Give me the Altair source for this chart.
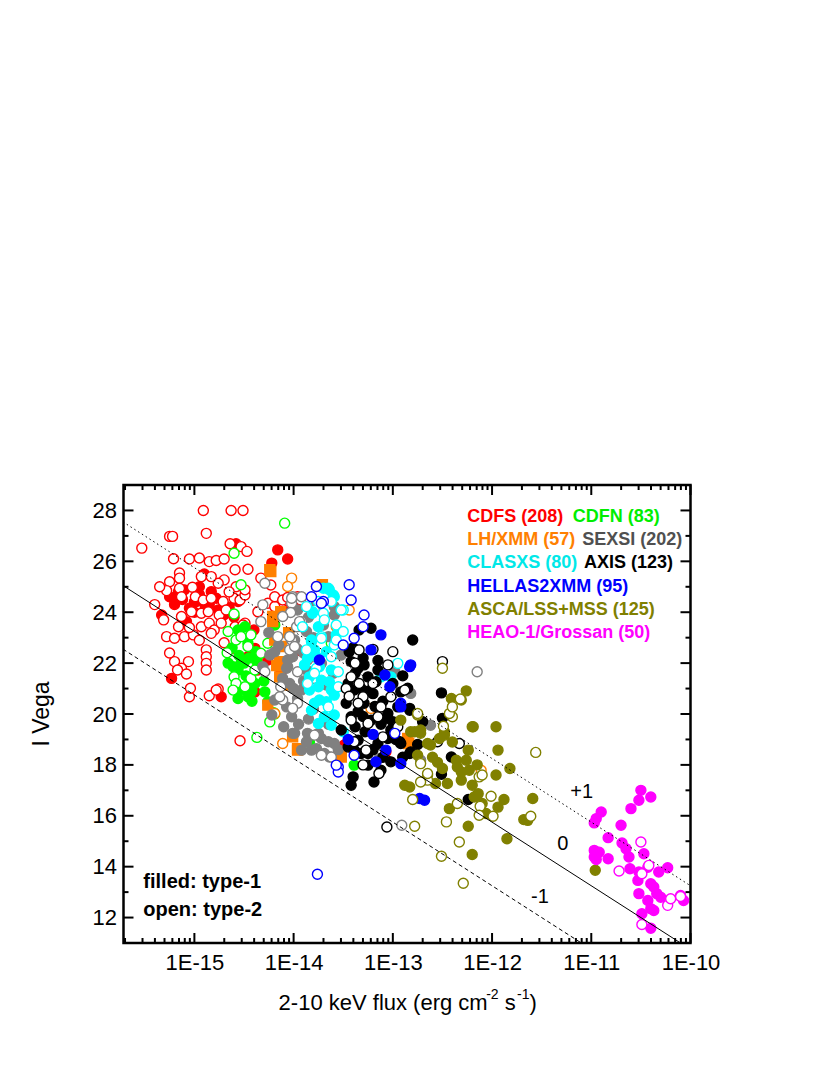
import altair as alt
import pandas as pd

FONT = "Liberation Sans"

# ---------------- data: (log10 flux, I Vega mag) ----------------
CDFS_FILLED = [(-15.33, 23.89), (-15.23, 21.4), (-14.16, 26.45), (-14.06, 26.09), (-14.22, 25.93), (-14.58, 26.69),
               (-15.25, 24.61), (-15.10, 24.88), (-15.16, 24.81), (-14.83, 24.81), (-14.78, 24.55), (-14.98, 24.42),
               (-15.05, 24.16), (-15.08, 23.63), (-14.89, 24.22), (-14.76, 24.09), (-14.73, 20.68), (-14.39, 20.87),
               (-14.56, 24.42), (-14.06, 24.09), (-14.39, 22.58), (-14.46, 22.25), (-14.26, 22.12), (-14.36, 21.73),
               (-14.13, 21.6), (-13.96, 24.42), (-13.92, 23.43), (-15.20, 24.3), (-15.12, 24.5), (-14.95, 24.7),
               (-14.90, 25.5), (-15.0, 24.0), (-14.7, 23.9), (-13.07, 18.51), (-13.49, 18.78), (-13.95, 22.5),
               (-15.18, 24.6), (-15.0, 24.4), (-14.85, 24.3), (-14.65, 24.2), (-14.95, 25.0), (-14.6, 23.8),
               (-14.4, 23.3)]
CDFS_OPEN = [(-15.53, 26.52), (-14.91, 28.0), (-14.63, 28.0), (-14.51, 28.0), (-15.25, 26.98), (-15.22, 26.98),
             (-14.88, 27.1), (-15.21, 26.1), (-15.05, 26.09), (-14.95, 26.13), (-14.85, 25.99), (-14.78, 26.03),
             (-14.70, 26.09), (-14.64, 26.69), (-14.53, 26.58), (-14.47, 26.39), (-14.59, 25.67), (-14.46, 25.69),
             (-14.70, 25.27), (-14.76, 25.14), (-15.15, 25.54), (-15.15, 25.34), (-15.25, 25.2), (-15.28, 24.85),
             (-15.15, 24.94), (-15.02, 24.98), (-14.93, 25.4), (-14.83, 25.4), (-15.13, 24.61), (-14.99, 24.61),
             (-14.91, 24.48), (-14.83, 24.55), (-14.71, 24.42), (-14.60, 24.55), (-14.54, 24.48), (-14.49, 24.68),
             (-15.13, 23.83), (-15.03, 24.02), (-14.93, 23.96), (-14.86, 24.02), (-14.75, 23.89), (-14.68, 24.09),
             (-15.28, 23.04), (-15.20, 22.98), (-15.10, 23.04), (-15.16, 23.43), (-15.01, 23.11), (-14.93, 23.43),
             (-14.85, 23.57), (-14.80, 23.3), (-14.73, 23.57), (-14.83, 23.17), (-14.59, 23.43), (-14.49, 23.57),
             (-14.88, 22.52), (-14.88, 22.25), (-14.88, 21.99), (-14.88, 21.73), (-15.20, 22.06), (-15.06, 22.06),
             (-15.13, 21.8), (-15.17, 21.73), (-15.08, 21.57), (-15.05, 20.68), (-14.85, 20.72), (-14.76, 20.98),
             (-15.31, 23.7), (-14.58, 25.0), (-14.49, 24.88), (-14.33, 25.34), (-14.23, 25.07), (-14.26, 24.35),
             (-14.19, 24.22), (-14.36, 24.02), (-14.19, 24.61), (-14.11, 24.48), (-14.06, 24.58), (-14.51, 23.5),
             (-13.96, 24.61), (-13.93, 24.48), (-14.78, 20.94), (-14.54, 18.95), (-15.04, 21.01),
             (-15.4, 24.3), (-15.35, 25.0), (-14.65, 24.8), (-14.95, 22.9), (-15.05, 23.4), (-14.7, 22.8),
             (-14.6, 22.2), (-15.25, 22.4)]
CDFN_FILLED = [(-14.19, 23.5), (-14.56, 23.3), (-14.49, 23.43), (-14.46, 22.78), (-14.37, 22.06), (-14.56, 21.73),
               (-14.53, 21.99), (-14.56, 20.61), (-14.46, 20.68), (-14.26, 20.48), (-14.61, 21.86), (-14.39, 21.2),
               (-13.39, 17.99), (-13.52, 18.45), (-13.84, 18.87), (-14.29, 20.87), (-14.45, 22.2), (-14.35, 21.9),
               (-14.62, 22.6), (-14.50, 22.0), (-14.42, 20.9), (-14.55, 22.3), (-14.48, 21.5), (-14.42, 20.5),
               (-14.3, 21.3), (-14.66, 22.0), (-14.52, 20.95), (-14.38, 22.45)]
CDFN_OPEN = [(-14.09, 27.5), (-14.60, 26.32), (-14.53, 25.08), (-14.60, 23.93), (-14.66, 23.24), (-14.58, 22.91),
             (-14.67, 22.41), (-14.53, 23.04), (-14.43, 23.11), (-14.60, 21.46), (-14.58, 21.2), (-14.49, 21.07),
             (-14.61, 20.94), (-14.43, 21.4), (-14.39, 21.73), (-14.46, 22.65), (-14.33, 22.39), (-14.26, 22.78),
             (-14.37, 19.08), (-14.24, 19.69), (-14.19, 20.0), (-14.20, 20.05), (-13.62, 22.78)]
LH_FILLED = [(-14.23, 25.6), (-14.13, 24.02), (-14.21, 23.83), (-14.24, 25.67), (-14.21, 23.63), (-14.19, 22.91),
             (-14.12, 22.65), (-14.14, 22.06), (-14.26, 20.35), (-14.01, 19.1), (-13.96, 18.64), (-14.14, 21.46),
             (-14.09, 21.14), (-13.71, 25.08), (-13.96, 18.58), (-13.52, 18.31), (-12.85, 19.04), (-13.52, 18.38),
             (-12.84, 18.84), (-14.05, 23.2), (-14.17, 21.9)]
LH_OPEN = [(-14.02, 25.34), (-14.06, 25.01), (-13.77, 25.01), (-13.44, 24.09), (-13.57, 23.43), (-14.11, 18.84),
           (-14.19, 20.02), (-13.22, 20.22), (-12.11, 17.79)]
SEXSI_FILLED = [(-13.77, 24.29), (-13.96, 24.09), (-13.99, 22.91), (-13.97, 22.58), (-14.24, 22.32), (-14.06, 22.12),
                (-14.07, 21.8), (-13.87, 21.73), (-13.87, 23.24), (-14.19, 22.45), (-14.01, 22.25), (-14.06, 21.86),
                (-14.04, 21.2), (-13.92, 20.94), (-13.79, 22.25), (-13.72, 21.99), (-13.59, 24.22), (-13.65, 23.04),
                (-14.31, 21.86), (-14.11, 21.4), (-14.07, 20.28), (-13.96, 20.61), (-14.02, 19.89), (-14.01, 19.24),
                (-13.86, 19.24), (-13.87, 18.91), (-13.92, 18.58), (-13.77, 18.64), (-13.69, 18.45), (-13.72, 19.04),
                (-14.22, 19.96), (-14.19, 20.55), (-13.59, 23.89), (-13.52, 22.32), (-12.98, 21.66), (-13.67, 21.14),
                (-13.65, 18.91), (-13.64, 18.31), (-13.14, 18.25), (-12.62, 19.56), (-12.82, 20.81), (-12.72, 18.18),
                (-13.82, 18.58), (-13.99, 19.24), (-13.75, 19.24), (-13.59, 18.84), (-13.90, 21.3), (-13.80, 20.2),
                (-13.85, 23.8), (-14.15, 22.7), (-13.9, 22.4), (-14.0, 21.0), (-13.85, 19.8), (-13.95, 19.6),
                (-14.1, 19.5), (-13.65, 19.6), (-13.55, 18.6), (-13.6, 21.6), (-13.7, 23.5), (-13.8, 23.0),
                (-14.25, 23.2)]
SEXSI_OPEN = [(-14.29, 25.14), (-14.31, 24.29), (-14.33, 23.63), (-14.01, 24.61), (-14.02, 24.35), (-14.03, 23.99),
              (-13.97, 23.43), (-13.92, 23.63), (-14.02, 22.91), (-14.04, 22.52), (-13.86, 22.12), (-14.02, 24.55),
              (-13.92, 24.61), (-14.11, 23.83), (-14.16, 23.04), (-14.04, 23.04), (-13.94, 23.63), (-13.79, 24.09),
              (-13.99, 22.65), (-13.96, 21.66), (-14.29, 21.66), (-14.13, 21.07), (-13.96, 20.42), (-13.79, 21.4),
              (-14.11, 20.55), (-14.14, 20.68), (-14.01, 20.22), (-13.79, 19.17), (-13.62, 18.31), (-13.72, 18.38),
              (-12.15, 21.66), (-12.91, 15.63)]
CLASXS_FILLED = [(-13.64, 24.88), (-13.60, 24.68), (-13.81, 24.02), (-13.57, 23.11), (-13.82, 22.84), (-13.79, 22.52),
                 (-13.86, 22.19), (-13.74, 21.86), (-13.67, 22.45), (-13.12, 21.46), (-13.65, 24.94), (-13.81, 23.96),
                 (-13.75, 23.43), (-13.82, 22.91), (-13.77, 22.25), (-13.89, 21.93), (-13.62, 21.73), (-13.82, 20.15),
                 (-13.74, 20.55), (-13.62, 20.94), (-13.84, 20.94), (-13.69, 19.89), (-13.75, 19.63), (-13.62, 19.56),
                 (-13.84, 21.46), (-13.72, 21.33), (-13.67, 20.48), (-13.59, 20.74), (-13.59, 19.96), (-13.50, 19.3),
                 (-13.64, 21.27), (-13.02, 21.46), (-13.70, 24.94), (-13.59, 24.61), (-13.79, 20.42), (-13.75, 21.07)]
CLASXS_OPEN = [(-13.62, 24.42), (-13.87, 24.22), (-13.70, 23.96), (-13.50, 24.09), (-13.69, 23.7), (-13.57, 23.5),
               (-13.50, 23.24), (-13.72, 23.04), (-13.59, 22.71), (-13.77, 21.8), (-13.55, 21.66), (-12.95, 21.99),
               (-13.91, 23.43), (-13.75, 24.42), (-13.72, 22.98), (-13.87, 22.52), (-13.62, 22.25), (-13.57, 22.91),
               (-13.79, 21.6), (-13.65, 20.28), (-13.55, 21.07), (-13.52, 24.09), (-13.86, 21.2)]
AXIS_FILLED = [(-13.34, 23.3), (-13.22, 23.37), (-12.80, 22.91), (-13.44, 22.45), (-13.42, 22.06), (-13.29, 21.93),
               (-13.15, 21.73), (-13.39, 20.94), (-13.29, 20.42), (-13.42, 19.89), (-13.22, 19.76), (-13.17, 21.27),
               (-13.25, 21.46), (-13.05, 20.02), (-13.02, 19.37), (-12.95, 20.28), (-12.83, 20.22), (-13.35, 18.97),
               (-13.15, 18.84), (-13.05, 19.04), (-12.93, 18.91), (-12.82, 18.51), (-13.32, 18.45), (-13.40, 17.53),
               (-13.25, 17.99), (-13.02, 18.12), (-13.52, 19.37), (-13.47, 20.42), (-12.92, 20.87), (-13.42, 17.2),
               (-13.19, 17.33), (-13.12, 17.79), (-13.39, 18.58), (-13.25, 18.45), (-12.51, 20.83), (-12.50, 19.83),
               (-12.83, 20.15), (-12.85, 21.01), (-12.41, 18.31), (-12.51, 17.63), (-12.24, 16.64), (-13.05, 19.1),
               (-12.92, 18.84), (-12.83, 18.45), (-13.35, 21.8), (-13.30, 22.2), (-13.20, 20.8), (-13.45, 21.2),
               (-13.10, 20.5), (-13.35, 20.1), (-13.28, 19.3), (-13.12, 19.6), (-13.38, 21.6), (-13.32, 21.0),
               (-13.25, 20.9), (-13.18, 20.3), (-13.08, 19.8), (-13.0, 19.7), (-12.97, 19.0), (-13.3, 19.9),
               (-13.38, 19.5), (-13.45, 18.7), (-13.2, 18.6), (-13.1, 18.3), (-12.9, 18.3), (-12.75, 18.8),
               (-12.7, 19.7), (-13.4, 22.6), (-13.15, 22.1), (-13.0, 21.2), (-12.9, 21.5)]
AXIS_OPEN = [(-13.34, 22.52), (-13.20, 22.54), (-13.00, 22.45), (-13.05, 21.93), (-13.42, 21.46), (-13.30, 20.68),
             (-13.34, 21.2), (-13.15, 19.89), (-13.25, 19.63), (-13.42, 19.76), (-13.02, 20.68), (-13.12, 20.28),
             (-13.27, 18.58), (-13.39, 18.91), (-13.14, 17.66), (-13.06, 15.56), (-12.50, 22.06), (-12.88, 20.94),
             (-12.33, 18.84), (-12.55, 18.91), (-13.47, 21.0), (-13.35, 20.42), (-13.44, 20.7), (-13.2, 21.2),
             (-13.1, 19.1), (-13.3, 18.0), (-12.95, 19.5), (-13.38, 22.0)]
HELLAS_FILLED = [(-13.12, 23.11), (-12.83, 21.86), (-13.22, 22.52), (-13.74, 22.12), (-13.08, 21.53), (-13.03, 21.07),
                 (-12.92, 20.42), (-13.17, 18.12), (-12.92, 18.05), (-13.07, 18.58), (-12.82, 21.93), (-12.92, 20.28),
                 (-12.68, 16.61), (-12.73, 16.68), (-13.2, 19.2), (-13.45, 19.0)]
HELLAS_OPEN = [(-13.77, 25.01), (-13.44, 25.08), (-13.42, 24.48), (-13.82, 24.61), (-13.70, 24.42), (-13.29, 23.89),
               (-13.30, 23.43), (-13.39, 22.98), (-13.50, 22.71), (-13.72, 24.35), (-13.55, 17.92), (-13.55, 17.72),
               (-13.39, 18.38), (-12.98, 19.24), (-13.57, 17.99), (-13.76, 13.7)]
ASCA_FILLED = [(-12.20, 19.5), (-11.96, 19.5), (-11.94, 18.58), (-11.82, 17.86), (-11.96, 17.6), (-12.78, 19.3),
               (-12.72, 19.24), (-12.65, 18.84), (-12.53, 19.04), (-12.48, 19.3), (-12.83, 17.13), (-12.75, 18.38),
               (-12.65, 17.6), (-12.43, 16.28), (-12.24, 15.59), (-12.20, 14.48), (-11.85, 15.1), (-11.94, 16.34),
               (-11.88, 16.64), (-11.59, 16.68), (-11.64, 15.82), (-11.68, 15.85), (-12.18, 16.74), (-12.10, 16.48),
               (-12.06, 16.09), (-12.31, 17.4), (-12.23, 17.79), (-12.14, 16.87), (-12.36, 18.18), (-12.26, 18.18),
               (-12.24, 18.58), (-12.35, 17.92), (-12.45, 17.27), (-12.20, 17.2), (-10.96, 13.86), (-12.50, 17.86),
               (-12.57, 17.27), (-12.31, 17.72), (-12.26, 20.91), (-12.41, 20.61), (-12.19, 19.5), (-12.48, 19.17),
               (-12.92, 19.76), (-12.82, 19.3), (-12.72, 19.37), (-12.62, 18.78), (-12.88, 17.2), (-12.31, 20.55),
               (-12.6, 18.3), (-12.4, 18.9), (-12.15, 18.0), (-12.55, 18.1)]
ASCA_OPEN = [(-11.56, 18.49), (-12.65, 17.4), (-12.72, 17.33), (-12.80, 16.64), (-12.46, 15.76), (-12.33, 14.97),
             (-12.51, 14.41), (-12.29, 13.35), (-12.78, 15.59), (-12.12, 16.37), (-11.99, 15.98), (-12.13, 16.02),
             (-12.01, 16.77), (-11.61, 15.98), (-12.13, 17.53), (-12.10, 17.6), (-12.35, 16.48), (-12.40, 19.89),
             (-12.43, 20.02), (-12.32, 20.59), (-12.40, 20.28), (-12.75, 19.96), (-12.50, 21.8), (-12.49, 19.52),
             (-12.75, 20.02), (-12.72, 18.05), (-12.65, 17.66)]
HEAO_FILLED = [(-10.50, 17.0), (-10.40, 16.74), (-10.52, 16.61), (-10.60, 16.28), (-10.90, 16.15), (-10.95, 15.89),
               (-10.97, 15.72), (-10.70, 15.63), (-10.83, 15.14), (-10.69, 14.93), (-10.65, 14.71), (-10.47, 14.51),
               (-10.97, 14.64), (-10.92, 14.57), (-10.97, 14.38), (-10.95, 14.28), (-10.83, 14.31), (-10.62, 14.38),
               (-10.61, 13.92), (-10.52, 13.79), (-10.53, 13.46), (-10.43, 13.98), (-10.23, 13.96), (-10.32, 13.79),
               (-10.40, 13.33), (-10.37, 13.2), (-10.34, 12.94), (-10.30, 12.8), (-10.52, 12.94), (-10.43, 12.67),
               (-10.40, 12.35), (-10.49, 12.15), (-10.40, 11.58), (-10.07, 12.67), (-10.10, 12.87), (-10.37, 12.28)]
HEAO_OPEN = [(-10.50, 14.97), (-10.49, 13.72), (-10.72, 13.83), (-10.23, 12.48), (-10.20, 12.74), (-10.10, 12.83),
             (-10.49, 11.73), (-10.42, 14.05)]

SERIES = [
    ("CDFS", "#ff0000", CDFS_FILLED, CDFS_OPEN),
    ("CDFN", "#00ff00", CDFN_FILLED, CDFN_OPEN),
    ("LH/XMM", "#ff8000", LH_FILLED, LH_OPEN),
    ("SEXSI", "#808080", SEXSI_FILLED, SEXSI_OPEN),
    ("CLASXS", "#00ffff", CLASXS_FILLED, CLASXS_OPEN),
    ("AXIS", "#000000", AXIS_FILLED, AXIS_OPEN),
    ("HELLAS2XMM", "#0000ff", HELLAS_FILLED, HELLAS_OPEN),
    ("ASCA/LSS+MSS", "#808000", ASCA_FILLED, ASCA_OPEN),
    ("HEAO-1/Grossan", "#ff00ff", HEAO_FILLED, HEAO_OPEN),
]

# relation lines log(fX/fopt) = +1, 0, -1 : endpoints (log flux, mag)
LINE_P1 = [(-15.72, 27.55), (-10.0, 13.25)]
LINE_0 = [(-15.72, 25.05), (-10.0, 10.75)]
LINE_M1 = [(-15.72, 22.55), (-10.0, 8.25)]

X_MAJOR = [1e-15, 1e-14, 1e-13, 1e-12, 1e-11, 1e-10]
Y_MAJOR = [12, 14, 16, 18, 20, 22, 24, 26, 28]
Y_MINOR = [11, 13, 15, 17, 19, 21, 23, 25, 27, 29]
X_MINOR = [k * 10.0 ** e for e in range(-16, -10) for k in range(2, 10) if 1.93e-16 <= k * 10.0 ** e <= 1e-10]

# ---------------- build tables ----------------
rows = []
idx = 0
for name, col, filled, opened in SERIES:
    for pts, f in ((filled, True), (opened, False)):
        for lf, m in pts:
            rows.append({"survey": name, "flux": 10.0 ** lf, "mag": m, "filled": f, "idx": idx})
            idx += 1
df = pd.DataFrame(rows)

W, H = 567, 458
xs = alt.Scale(type="log", domain=[1.93e-16, 1e-10], nice=False)
ys = alt.Scale(domain=[11, 29], nice=False, zero=False)
dom = [s[0] for s in SERIES]
rng = [s[1] for s in SERIES]

XAX = alt.Axis(values=X_MAJOR, labelExpr="'1E' + round(log(datum.value)/LN10)",
               ticks=False, domain=False, grid=False, title=None,
               labelFontSize=22, labelPadding=9, labelFont=FONT,
               labelColor="black", labelFlush=False)
YAX = alt.Axis(values=Y_MAJOR, ticks=False, domain=False, grid=False, title=None,
               labelFontSize=22, labelPadding=7, labelFont=FONT,
               labelColor="black", labelFlush=False)

points = alt.Chart(df).mark_point(size=100, strokeWidth=1.4, opacity=1).encode(
    x=alt.X("flux:Q", scale=xs, axis=XAX),
    y=alt.Y("mag:Q", scale=ys, axis=YAX),
    stroke=alt.Stroke("survey:N", scale=alt.Scale(domain=dom, range=rng), legend=None),
    fill=alt.condition("datum.filled", alt.Fill("survey:N", scale=alt.Scale(domain=dom, range=rng), legend=None),
                       alt.value("white")),
    shape=alt.condition("datum.filled && datum.survey == 'LH/XMM'", alt.value("square"), alt.value("circle")),
    order=alt.Order("idx:Q"),
)


def line_layer(pts, dash):
    d = pd.DataFrame({"flux": [10.0 ** p[0] for p in pts], "mag": [p[1] for p in pts]})
    kw = {"strokeDash": dash} if dash else {}
    return alt.Chart(d).mark_line(color="black", strokeWidth=1, clip=True, **kw).encode(
        x=alt.X("flux:Q", scale=xs, axis=XAX), y=alt.Y("mag:Q", scale=ys, axis=YAX))


lines = [line_layer(LINE_P1, [1.5, 3]), line_layer(LINE_0, None), line_layer(LINE_M1, [4, 3])]


def xticks(vals, length):
    d = pd.DataFrame({"v": vals})
    b = alt.Chart(d).mark_rule(color="black", strokeWidth=2).encode(
        x=alt.X("v:Q", scale=xs, axis=XAX), y=alt.value(H), y2=alt.value(H - length))
    t = alt.Chart(d).mark_rule(color="black", strokeWidth=2).encode(
        x=alt.X("v:Q", scale=xs, axis=XAX), y=alt.value(0), y2=alt.value(length))
    return [b, t]


def yticks(vals, length):
    d = pd.DataFrame({"v": vals})
    l = alt.Chart(d).mark_rule(color="black", strokeWidth=2).encode(
        y=alt.Y("v:Q", scale=ys, axis=YAX), x=alt.value(0), x2=alt.value(length))
    r = alt.Chart(d).mark_rule(color="black", strokeWidth=2).encode(
        y=alt.Y("v:Q", scale=ys, axis=YAX), x=alt.value(W), x2=alt.value(W - length))
    return [l, r]


ticks = xticks(X_MAJOR, 10) + xticks(X_MINOR, 5) + yticks(Y_MAJOR, 10) + yticks(Y_MINOR, 5)


def label(txt, x, y, size, color="black", weight="normal", align="left", angle=0):
    return alt.Chart(pd.DataFrame({"t": [txt]})).mark_text(
        align=align, baseline="middle", fontSize=size, fontWeight=weight, color=color, font=FONT, angle=angle
    ).encode(x=alt.value(x), y=alt.value(y), text="t:N")


LX1, LX2 = 343.8, 449.2
texts = [
    label("CDFS (208)", LX1, 31.7, 18, "#ff0000", "bold"),
    label("CDFN (83)", LX2, 31.7, 18, "#00ee00", "bold"),
    label("LH/XMM (57)", LX1, 55.0, 18, "#ff8000", "bold"),
    label("SEXSI (202)", 458.8, 55.0, 18, "#505050", "bold"),
    label("CLASXS (80)", LX1, 78.3, 18, "#00e8e8", "bold"),
    label("AXIS (123)", 460.5, 78.3, 18, "black", "bold"),
    label("HELLAS2XMM (95)", LX1, 101.6, 18, "#0000ff", "bold"),
    label("ASCA/LSS+MSS (125)", LX1, 125.0, 18, "#808000", "bold"),
    label("HEAO-1/Grossan (50)", LX1, 148.3, 18, "#ff00ff", "bold"),
    label("filled: type-1", 19.8, 396.7, 20, "black", "bold"),
    label("open: type-2", 19.8, 425.0, 20, "black", "bold"),
    label("+1", 458.2, 306.7, 20, align="center"),
    label("0", 439.2, 359.0, 20, align="center"),
    label("-1", 416.5, 411.7, 20, align="center"),
    label("I Vega", -82, 229, 23, align="center", angle=270),
    label("2-10 keV flux (erg cm", 155.1, 518.0, 22),
    label("-2", 362.7, 509.5, 14),
    label("s", 381.2, 518.0, 22),
    label("-1", 393.5, 509.5, 14),
    label(")", 406.0, 518.0, 22),
]

chart = alt.layer(points, *lines, *ticks, *texts).properties(
    width=W, height=H,
    background="white",
    autosize=alt.AutoSizeParams(type="none"),
    padding={"left": 115.5, "top": 477, "right": 60, "bottom": 80},
).configure_view(stroke="black", strokeWidth=2.5)

chart.save("out.html", embed_options={"renderer": "svg", "actions": False})
